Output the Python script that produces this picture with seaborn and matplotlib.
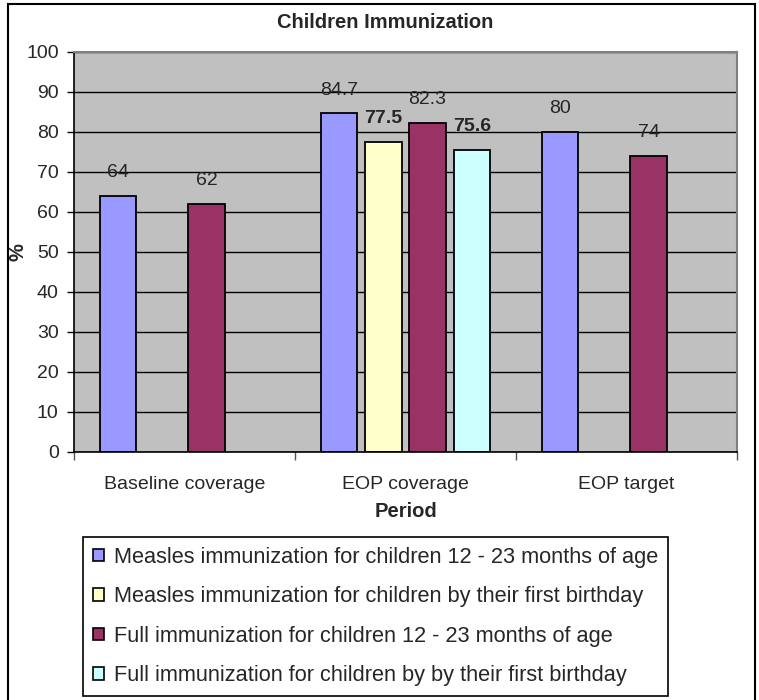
import numpy as np
import pandas as pd
import matplotlib
matplotlib.use("Agg")
import matplotlib.pyplot as plt
from matplotlib.patches import Patch, Rectangle
import seaborn as sns

# ─── Data ─────────────────────────────────────────────────────────────────────
periods = ["Baseline coverage", "EOP coverage", "EOP target"]
series = [
    "Measles immunization for children 12 - 23 months of age",
    "Measles immunization for children by their first birthday",
    "Full immunization for children 12 - 23 months of age",
    "Full immunization for children by by their first birthday",
]
measles_12_23 = [64, 84.7, 80]
measles_first_bday = [np.nan, 77.5, np.nan]
full_12_23 = [62, 82.3, 74]
full_first_bday = [np.nan, 75.6, np.nan]
bold_series = [False, True, False, True]

# ─── Palette ──────────────────────────────────────────────────────────────────
COLORS = ["#9999FF", "#FFFFCC", "#993366", "#CCFFFF"]
PLOT_BG = "#C0C0C0"

sns.set_theme(style="white")
plt.rcParams["font.family"] = ["Liberation Sans", "DejaVu Sans"]

df = pd.DataFrame({
    "Period": periods * 4,
    "series": [s for s in series for _ in periods],
    "value": measles_12_23 + measles_first_bday + full_12_23 + full_first_bday,
})

W, H = 759, 700
fig = plt.figure(figsize=(W / 100, H / 100), dpi=100)
fig.patch.set_facecolor("white")
ax = fig.add_axes([74 / W, 1 - 452 / H, (737 - 74) / W, (452 - 52) / H])
ax.set_facecolor(PLOT_BG)

sns.barplot(
    data=df, x="Period", y="value", hue="series", hue_order=series,
    order=periods, palette=COLORS, saturation=1, edgecolor="black",
    linewidth=1.3, gap=0.18, errorbar=None, legend=False, ax=ax,
)

# data labels
for cont, is_bold in zip(ax.containers, bold_series):
    ax.bar_label(cont, labels=[f"{v:g}" for v in cont.datavalues],
                 padding=10.5, fontsize=14,
                 fontweight="bold" if is_bold else "normal")

ax.set_ylim(0, 100)
ax.set_xlim(-0.5, 2.5)
ax.set_yticks(np.arange(0, 101, 10))
ax.yaxis.grid(True, color="black", linewidth=1)
ax.set_axisbelow(True)

ax.tick_params(axis="y", direction="out", length=5, width=1, color="black",
               labelsize=14, pad=6, left=True)
ax.tick_params(axis="x", which="major", length=0, labelsize=14, pad=17)
ax.set_xticks([-0.5, 0.5, 1.5, 2.5], minor=True)
ax.tick_params(axis="x", which="minor", direction="out", length=6, width=1,
               color="#555555", bottom=True)

for side in ["left", "bottom"]:
    ax.spines[side].set_color("black")
    ax.spines[side].set_linewidth(1.2)
for side in ["top", "right"]:
    ax.spines[side].set_color("#808080")
    ax.spines[side].set_linewidth(1.5)

ax.set_xlabel("Period", fontsize=14.5, fontweight="bold", labelpad=7)
ax.set_ylabel("%", fontsize=14.5, fontweight="bold")
ax.yaxis.set_label_coords((27 - 74) / (737 - 74), 0.5)

fig.text(385 / W, 1 - 23 / H, "Children Immunization", ha="center",
         va="center", fontsize=14.5, fontweight="bold")

handles = [Patch(facecolor=c, edgecolor="black", linewidth=1.2) for c in COLORS]
leg = fig.legend(handles, series, loc="upper left",
                 bbox_to_anchor=(83 / W, 1 - 537 / H),
                 bbox_transform=fig.transFigure, borderaxespad=0,
                 fontsize=15.7, frameon=True, fancybox=False,
                 edgecolor="black", framealpha=1, handlelength=0.5,
                 handleheight=0.5, handletextpad=0.45, labelspacing=0.85,
                 borderpad=0.45)
leg.get_frame().set_linewidth(1.2)

# outer chart border
fig.add_artist(Rectangle((8 / W, -0.1), (755 - 8) / W, 1.1 - 4 / H,
                         transform=fig.transFigure, fill=False,
                         edgecolor="black", linewidth=1.5))

fig.savefig("out.png", dpi=100)
